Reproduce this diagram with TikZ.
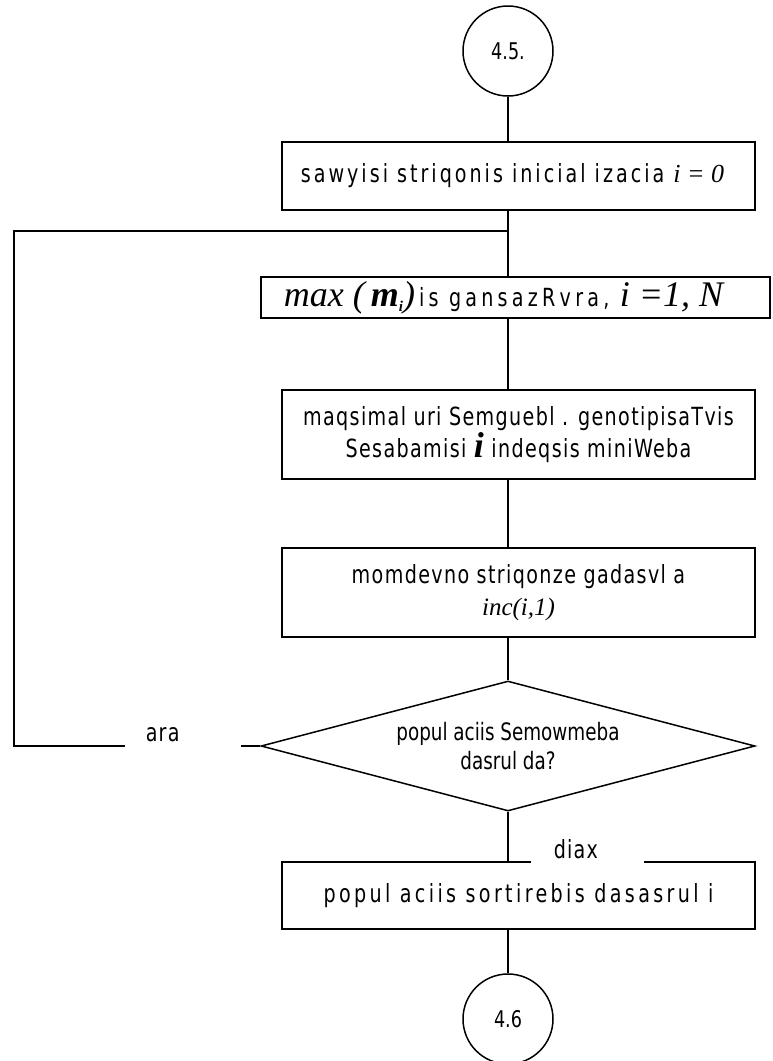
\documentclass[tikz,border=0pt]{standalone}
\usepackage{fontspec}
\setmainfont{DejaVu Sans Condensed}
\newfontfamily\geo[FakeStretch=0.85]{DejaVu Sans Condensed}
\newfontfamily\tms{Liberation Serif}
\usetikzlibrary{shapes.geometric}

\begin{document}
\begin{tikzpicture}[x=1pt, y=-1pt, line width=1.5pt,
  spaced/.style={font=\geo\fontsize{25}{32}\selectfont\addfontfeature{LetterSpace=#1}},
  conn/.style={circle, draw, minimum size=90pt, inner sep=0pt, font=\geo\fontsize{23}{24}\selectfont},
  procbox/.style={rectangle, draw, minimum width=473pt, inner sep=0pt, align=center, spaced=5.5},
  decide/.style={diamond, draw, aspect=3.8, minimum width=494pt, minimum height=130pt, inner sep=0pt, align=center, font=\geo\fontsize{24}{29}\selectfont},
  answer/.style={fill=white, inner ysep=0pt, align=left, spaced=5}]
  \useasboundingbox (0,0) rectangle (772,1061);

  % blocks from top to bottom
  \node[conn] (c45) at (508,51) {4.5.};
  \node[procbox, spaced=12, minimum height=68pt] (init) at (518.5,176)
    {\hspace{-12pt}sawyisi striqonis inicial izacia {\tms\itshape\fontsize{26}{26}\selectfont i = 0}};
  \node[procbox, spaced=17, minimum width=509pt, minimum height=41pt] (maxbox) at (515.5,297.5)
    {\hspace{-24pt}{\tms\itshape\fontsize{36}{36}\selectfont max (\,\textbf{m}\raisebox{-5pt}{\fontsize{15}{15}\selectfont\textbf{i}})}\,is gansazRvra, {\tms\itshape\fontsize{36}{36}\selectfont i =1, N}};
  \node[procbox, minimum height=89pt] (minbox) at (518.5,434.5)
    {maqsimal uri Semguebl . genotipisaTvis\\
     Sesabamisi {\tms\itshape\bfseries\fontsize{36}{32}\selectfont i} indeqsis miniWeba};
  \node[procbox, minimum height=89pt] (nextbox) at (518.5,592.5)
    {momdevno striqonze gadasvl a\\{\tms\itshape\fontsize{25}{25}\selectfont inc(i,1)}};
  \node[decide] (test) at (508,746) {popul aciis Semowmeba\\dasrul da?};
  \node[procbox, spaced=13.5, minimum height=67pt] (endbox) at (518.5,895.5)
    {popul aciis sortirebis dasasrul i};
  \node[conn] (c46) at (508,1019) {4.6};

  % connectors
  \coordinate (join) at (508,231);
  \coordinate (loopx) at (14,231);
  \draw (c45) -- (c45 |- init.north);
  \draw (c45 |- init.south) -- (join) -- (c45 |- maxbox.north);
  \draw (c45 |- maxbox.south) -- (c45 |- minbox.north);
  \draw (c45 |- minbox.south) -- (c45 |- nextbox.north);
  \draw (c45 |- nextbox.south) -- (test.north);
  \draw (test.west) -| (loopx) -- (join);
  \draw (test.south) -- (c45 |- endbox.north);
  \draw (c45 |- endbox.south) -- (c46);

  % answers
  \node[answer, anchor=west, inner xsep=21pt, text width=74pt, minimum height=27pt] (no) at (124,735) {ara};
  \node[answer, anchor=west, inner xsep=23pt, text width=67pt, minimum height=28pt] (yes) at (530,849) {diax};
\end{tikzpicture}
\end{document}
